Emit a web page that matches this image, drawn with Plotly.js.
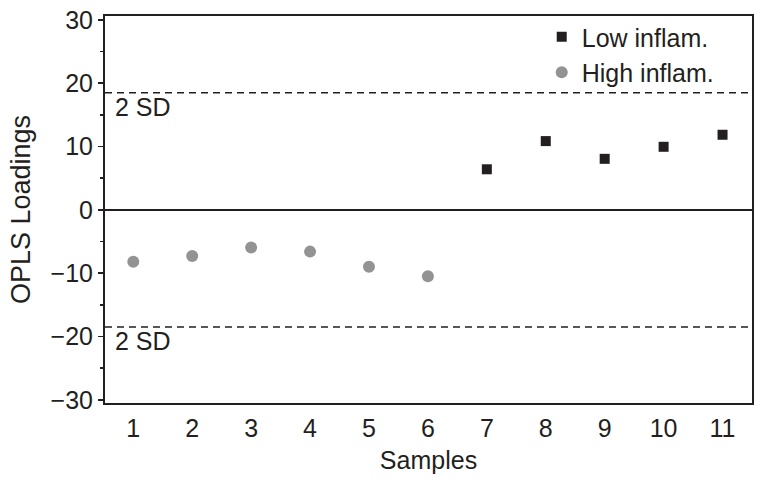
<!DOCTYPE html>
<html>
<head>
<meta charset="utf-8">
<script src="https://cdn.plot.ly/plotly-3.0.1.min.js"></script>
<style>html,body{margin:0;padding:0;background:#fff;}#chart{width:762px;height:488px;}</style>
</head>
<body>
<div id="chart"></div>
<script>
const lowSamples = [7, 8, 9, 10, 11];
const lowValues = [6.4, 10.85, 8.05, 9.95, 11.85];
const highSamples = [1, 2, 3, 4, 5, 6];
const highValues = [-8.2, -7.3, -5.95, -6.6, -9.0, -10.5];
const sdLimit = 18.5;
const xTicks = [1, 2, 3, 4, 5, 6, 7, 8, 9, 10, 11];
const yTicks = [-30, -20, -10, 0, 10, 20, 30];

const font = "Liberation Sans, Arial, sans-serif";
const fs = 25;
const ink = '#231f20';

const traces = [
  {x: lowSamples, y: lowValues, type: 'scatter', mode: 'markers', name: 'Low inflam.',
   marker: {symbol: 'square', size: 10, color: ink}},
  {x: highSamples, y: highValues, type: 'scatter', mode: 'markers', name: 'High inflam.',
   marker: {symbol: 'circle', size: 12, color: '#939393'}}
];

const layout = {
  width: 762, height: 488,
  margin: {l: 105, r: 10, t: 16, b: 85},
  paper_bgcolor: '#fff', plot_bgcolor: '#fff',
  font: {family: font, size: fs, color: ink},
  showlegend: true,
  legend: {x: 0.675, y: 1.005, xanchor: 'left', yanchor: 'top', bgcolor: 'rgba(0,0,0,0)',
           font: {family: font, size: fs, color: ink}, tracegroupgap: 0},
  xaxis: {
    range: [0.52, 11.5], tickvals: xTicks, ticktext: xTicks.map(String),
    showgrid: false, zeroline: false, showline: true, mirror: true,
    linecolor: ink, linewidth: 2, ticks: '', ticklabelstandoff: 2,
    tickfont: {family: font, size: fs, color: ink},
    title: {text: 'Samples', font: {family: font, size: fs, color: ink}, standoff: 10}
  },
  yaxis: {
    range: [-30.5, 30.6], tickvals: yTicks,
    showgrid: false, zeroline: true, zerolinecolor: ink, zerolinewidth: 1.5,
    showline: true, mirror: true, linecolor: ink, linewidth: 2,
    ticks: 'outside', ticklen: 5, tickwidth: 1.5, tickcolor: ink,
    minor: {dtick: 5, ticks: 'outside', ticklen: 3, tickwidth: 1.5, tickcolor: ink, showgrid: false},
    tickfont: {family: font, size: fs, color: ink},
    title: {text: 'OPLS Loadings', font: {family: font, size: 27, color: ink}, standoff: 12}
  },
  shapes: [
    {type: 'line', xref: 'paper', x0: 0, x1: 1, yref: 'y', y0: sdLimit, y1: sdLimit,
     line: {color: ink, width: 1.5, dash: '7px,5px'}},
    {type: 'line', xref: 'paper', x0: 0, x1: 1, yref: 'y', y0: -sdLimit, y1: -sdLimit,
     line: {color: ink, width: 1.5, dash: '7px,5px'}}
  ],
  annotations: [
    {xref: 'paper', x: 0, xanchor: 'left', xshift: 8, yref: 'y', y: sdLimit, yanchor: 'top', yshift: 2,
     text: '2 SD', showarrow: false, font: {family: font, size: fs, color: ink}},
    {xref: 'paper', x: 0, xanchor: 'left', xshift: 8, yref: 'y', y: -sdLimit, yanchor: 'top', yshift: 2,
     text: '2 SD', showarrow: false, font: {family: font, size: fs, color: ink}}
  ]
};

Plotly.newPlot('chart', traces, layout, {displayModeBar: false, staticPlot: true});
</script>
</body>
</html>
